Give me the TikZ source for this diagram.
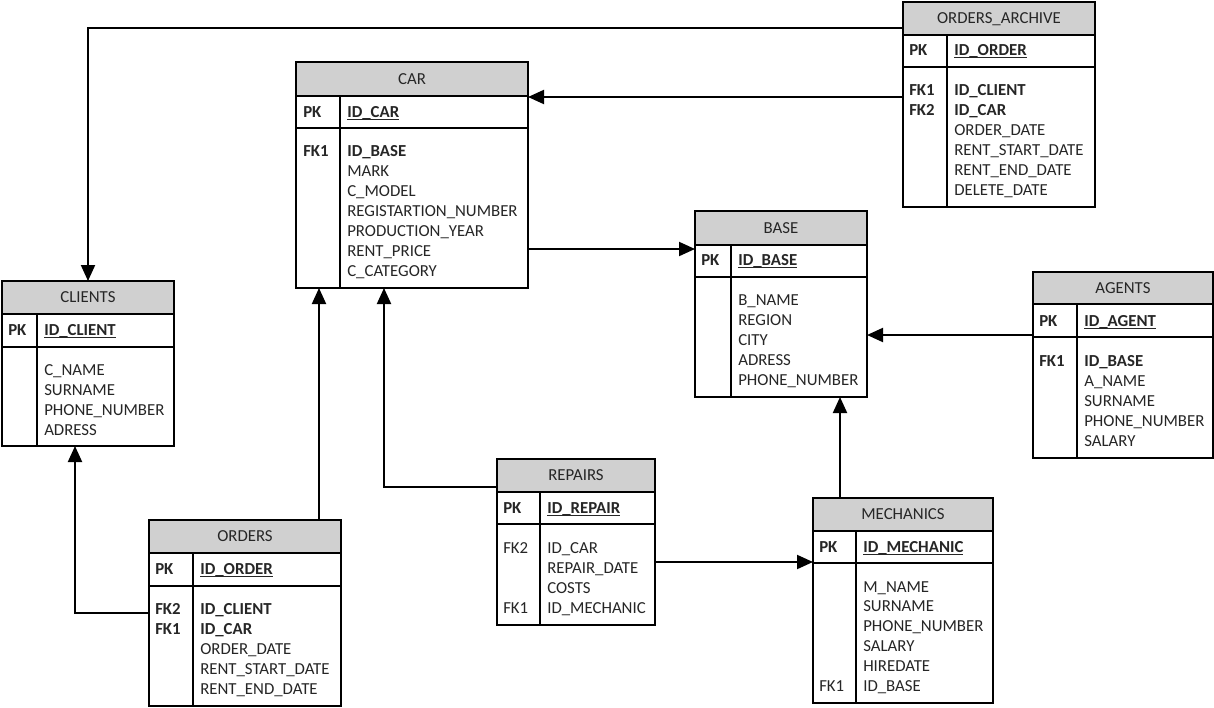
\documentclass[tikz,border=0pt]{standalone}
\usepackage{fontspec}
\setmainfont{Carlito}
\usetikzlibrary{arrows.meta,fit}
\definecolor{hdrgray}{HTML}{D0D0D0}
\definecolor{txtgray}{HTML}{262626}

% bold, underlined primary key name
\newcommand\pkul[1]{\setbox0\hbox{\textbf{#1}}\rlap{\rule[-2.4pt]{\wd0}{0.7pt}}\box0}

% table: name, x1, y1, x2, y2, header bottom, key-row bottom, column divider, title
\newcommand\ertable[9]{%
  \node[tblbox, fit={(#2,#3) (#4,#5)}] (#1) {};
  \fill[hdrgray] (#2,#3) rectangle (#4,#6);
  \draw[tblline] (#2,#3) rectangle (#4,#5);
  \draw[tblline] (#2,#6) -- (#4,#6) (#2,#7) -- (#4,#7) (#8,#6) -- (#8,#5);
  \node[ttltext] (#1-title) at ({(#2+#4)/2},{(#3+#6)/2+5}) {#9};
}
% one text entry: name, x, baseline y, text
\newcommand\fld[4]{\node[txt] (#1) at (#2,#3) {#4};}

\begin{document}
\begin{tikzpicture}[
  x=0.75pt, y=-0.75pt,
  tblbox/.style={inner sep=0pt, outer sep=0pt, draw=none},
  tblline/.style={draw=black, line width=0.8pt},
  ttltext/.style={anchor=base, inner sep=0pt, font=\fontsize{12.6}{15}\selectfont, text=txtgray},
  txt/.style={anchor=base west, inner sep=0pt, font=\fontsize{12.6}{15}\selectfont, text=txtgray},
  rel/.style={line width=1.5pt, -{Triangle[length=12pt,width=10.5pt]}},
]
\fill[white] (0,0) rectangle (1214,707);
\useasboundingbox (0,0) rectangle (1214,707);

% CAR
\ertable{car}{296}{62}{528}{288}{96}{128}{340}{CAR}
\fld{car-k0}{303}{117}{\textbf{PK}}
\fld{car-f0}{347}{117}{\pkul{ID\_CAR}}
\fld{car-k1}{303}{156}{\textbf{FK1}}
\fld{car-f1}{347}{156}{\textbf{ID\_BASE}}
\fld{car-f2}{347}{176}{MARK}
\fld{car-f3}{347}{196}{C\_MODEL}
\fld{car-f4}{347}{216}{REGISTARTION\_NUMBER}
\fld{car-f5}{347}{236}{PRODUCTION\_YEAR}
\fld{car-f6}{347}{256}{RENT\_PRICE}
\fld{car-f7}{347}{276}{C\_CATEGORY}

% ORDERS_ARCHIVE
\ertable{oarch}{903}{2}{1095}{207}{35}{67}{947}{ORDERS\_ARCHIVE}
\fld{oarch-k0}{909}{55}{\textbf{PK}}
\fld{oarch-f0}{954}{55}{\pkul{ID\_ORDER}}
\fld{oarch-k1}{909}{95}{\textbf{FK1}}
\fld{oarch-k2}{909}{115}{\textbf{FK2}}
\fld{oarch-f1}{954}{95}{\textbf{ID\_CLIENT}}
\fld{oarch-f2}{954}{115}{\textbf{ID\_CAR}}
\fld{oarch-f3}{954}{135}{ORDER\_DATE}
\fld{oarch-f4}{954}{155}{RENT\_START\_DATE}
\fld{oarch-f5}{954}{175}{RENT\_END\_DATE}
\fld{oarch-f6}{954}{195}{DELETE\_DATE}

% BASE
\ertable{base}{695}{211}{867}{397}{245}{277}{731}{BASE}
\fld{base-k0}{701}{265}{\textbf{PK}}
\fld{base-f0}{738}{265}{\pkul{ID\_BASE}}
\fld{base-f1}{738}{305}{B\_NAME}
\fld{base-f2}{738}{325}{REGION}
\fld{base-f3}{738}{345}{CITY}
\fld{base-f4}{738}{365}{ADRESS}
\fld{base-f5}{738}{385}{PHONE\_NUMBER}

% AGENTS
\ertable{agents}{1033}{272}{1213}{458}{304}{337}{1077}{AGENTS}
\fld{agents-k0}{1039}{326}{\textbf{PK}}
\fld{agents-f0}{1084}{326}{\pkul{ID\_AGENT}}
\fld{agents-k1}{1039}{366}{\textbf{FK1}}
\fld{agents-f1}{1084}{366}{\textbf{ID\_BASE}}
\fld{agents-f2}{1084}{386}{A\_NAME}
\fld{agents-f3}{1084}{406}{SURNAME}
\fld{agents-f4}{1084}{426}{PHONE\_NUMBER}
\fld{agents-f5}{1084}{446}{SALARY}

% CLIENTS
\ertable{clients}{2}{281}{174}{446}{314}{347}{37}{CLIENTS}
\fld{clients-k0}{8}{335}{\textbf{PK}}
\fld{clients-f0}{44}{335}{\pkul{ID\_CLIENT}}
\fld{clients-f1}{44}{375}{C\_NAME}
\fld{clients-f2}{44}{395}{SURNAME}
\fld{clients-f3}{44}{415}{PHONE\_NUMBER}
\fld{clients-f4}{44}{435}{ADRESS}

% ORDERS
\ertable{orders}{149}{520}{341}{706}{553}{586}{193}{ORDERS}
\fld{orders-k0}{155}{574}{\textbf{PK}}
\fld{orders-f0}{200}{574}{\pkul{ID\_ORDER}}
\fld{orders-k1}{155}{614}{\textbf{FK2}}
\fld{orders-k2}{155}{634}{\textbf{FK1}}
\fld{orders-f1}{200}{614}{\textbf{ID\_CLIENT}}
\fld{orders-f2}{200}{634}{\textbf{ID\_CAR}}
\fld{orders-f3}{200}{654}{ORDER\_DATE}
\fld{orders-f4}{200}{674}{RENT\_START\_DATE}
\fld{orders-f5}{200}{694}{RENT\_END\_DATE}

% REPAIRS
\ertable{repairs}{497}{459}{655}{625}{492}{524}{540}{REPAIRS}
\fld{repairs-k0}{503}{513}{\textbf{PK}}
\fld{repairs-f0}{547}{513}{\pkul{ID\_REPAIR}}
\fld{repairs-k1}{503}{553}{FK2}
\fld{repairs-k2}{503}{613}{FK1}
\fld{repairs-f1}{547}{553}{ID\_CAR}
\fld{repairs-f2}{547}{573}{REPAIR\_DATE}
\fld{repairs-f3}{547}{593}{COSTS}
\fld{repairs-f4}{547}{613}{ID\_MECHANIC}

% MECHANICS
\ertable{mech}{813}{498}{993}{703}{531}{563}{856}{MECHANICS}
\fld{mech-k0}{819}{552}{\textbf{PK}}
\fld{mech-f0}{863}{552}{\pkul{ID\_MECHANIC}}
\fld{mech-f1}{863}{592}{M\_NAME}
\fld{mech-f2}{863}{611}{SURNAME}
\fld{mech-f3}{863}{631}{PHONE\_NUMBER}
\fld{mech-f4}{863}{651}{SALARY}
\fld{mech-f5}{863}{671}{HIREDATE}
\fld{mech-k1}{819}{691}{FK1}
\fld{mech-f6}{863}{691}{ID\_BASE}

% relationships
\draw[rel] (oarch.west |- 0,28) -| (clients.north -| 88,0);
\draw[rel] (oarch.west |- 0,97) -- (car.east |- 0,97);
\draw[rel] (car.east |- 0,249) -- (base.west |- 0,249);
\draw[rel] (agents.west |- 0,335) -- (base.east |- 0,335);
\draw[rel] (mech.north -| 840,0) -- (base.south -| 840,0);
\draw[rel] (repairs.east |- 0,562) -- (mech.west |- 0,562);
\draw[rel] (repairs.west |- 0,487) -| (car.south -| 384,0);
\draw[rel] (orders.north -| 319,0) -- (car.south -| 319,0);
\draw[rel] (orders.west |- 0,613) -| (clients.south -| 75,0);
\end{tikzpicture}
\end{document}
